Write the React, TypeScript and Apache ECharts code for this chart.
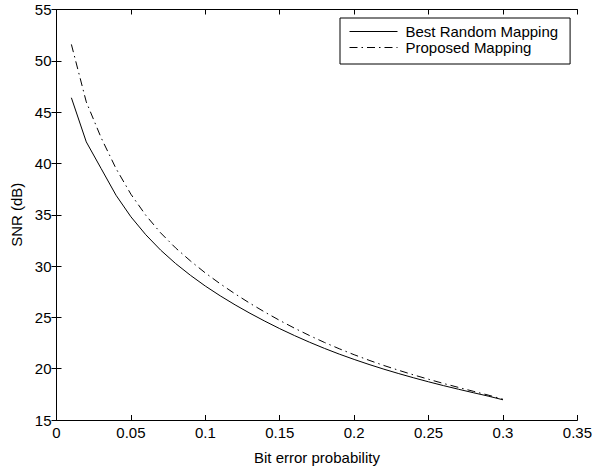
import React, { useEffect, useRef } from "react";
import * as echarts from "echarts";

const berValues = [
  0.01, 0.02, 0.03, 0.04, 0.05, 0.06, 0.07, 0.08, 0.09, 0.1,
  0.11, 0.12, 0.13, 0.14, 0.15, 0.16, 0.17, 0.18, 0.19, 0.2,
  0.21, 0.22, 0.23, 0.24, 0.25, 0.26, 0.27, 0.28, 0.29, 0.3,
];
const bestRandom = [
  46.4, 42.1, 39.5, 36.9, 34.8, 33.05, 31.55, 30.25, 29.1, 28.05,
  27.1, 26.22, 25.4, 24.63, 23.9, 23.22, 22.58, 21.98, 21.42, 20.9,
  20.41, 19.95, 19.52, 19.11, 18.72, 18.35, 18.0, 17.66, 17.33, 16.97,
];
const proposed = [
  51.6, 46.0, 42.5, 39.5, 37.0, 34.95, 33.23, 31.77, 30.5, 29.33,
  28.27, 27.29, 26.37, 25.51, 24.7, 23.94, 23.23, 22.56, 21.94, 21.36,
  20.82, 20.31, 19.84, 19.39, 18.97, 18.56, 18.18, 17.8, 17.43, 17.02,
];
const seriesNames = ["Best Random Mapping", "Proposed Mapping"];
const xAxisName = "Bit error probability";
const yAxisName = "SNR (dB)";

const FONT = "'Liberation Sans', Arial, Helvetica, sans-serif";

export default function App() {
  const ref = useRef<HTMLDivElement>(null);
  useEffect(() => {
    if (!ref.current) return;
    const chart = echarts.init(ref.current, undefined, { renderer: "svg" });
    const axisCommon = {
      axisLine: { show: true, lineStyle: { color: "#000", width: 1 } },
      axisTick: { show: true, inside: true, length: 5, lineStyle: { color: "#000" } },
      splitLine: { show: false },
    };
    const textStyle = { color: "#000", fontSize: 15, fontFamily: FONT };
    chart.setOption({
      animation: false,
      backgroundColor: "#fff",
      grid: { left: 56.5, right: 17, top: 9.5, bottom: 48.5, containLabel: false },
      legend: {
        data: seriesNames,
        orient: "vertical",
        left: 340,
        top: 18,
        itemWidth: 48,
        itemHeight: 14,
        itemGap: 1,
        itemStyle: { opacity: 0 },
        lineStyle: { width: 1 },
        borderColor: "#000",
        borderWidth: 1,
        padding: [6, 12, 9, 9],
        backgroundColor: "#fff",
        textStyle: { ...textStyle, padding: [0, 0, 0, 3] },
      },
      xAxis: [
        {
          type: "value",
          min: 0,
          max: 0.35,
          interval: 0.05,
          position: "bottom",
          name: xAxisName,
          nameLocation: "middle",
          nameGap: 30,
          nameTextStyle: textStyle,
          axisLabel: { ...textStyle, margin: 5, formatter: (v: number) => String(+v.toFixed(2)) },
          ...axisCommon,
        },
        {
          type: "value",
          min: 0,
          max: 0.35,
          interval: 0.05,
          position: "top",
          axisLabel: { show: false },
          ...axisCommon,
        },
      ],
      yAxis: [
        {
          type: "value",
          min: 15,
          max: 55,
          interval: 5,
          position: "left",
          name: yAxisName,
          nameLocation: "middle",
          nameGap: 31,
          nameTextStyle: textStyle,
          axisLabel: { ...textStyle, margin: 5 },
          ...axisCommon,
        },
        {
          type: "value",
          min: 15,
          max: 55,
          interval: 5,
          position: "right",
          axisLabel: { show: false },
          ...axisCommon,
        },
      ],
      series: [
        {
          name: seriesNames[0],
          type: "line",
          data: berValues.map((x, i) => [x, bestRandom[i]]),
          showSymbol: false,
          symbol: "none",
          lineStyle: { color: "#000", width: 1, type: "solid" },
          itemStyle: { color: "#000" },
        },
        {
          name: seriesNames[1],
          type: "line",
          data: berValues.map((x, i) => [x, proposed[i]]),
          showSymbol: false,
          symbol: "none",
          lineStyle: { color: "#000", width: 1, type: [8, 4, 1.5, 4] },
          itemStyle: { color: "#000" },
        },
      ],
    });
    return () => chart.dispose();
  }, []);
  return (
    <div
      ref={ref}
      style={{ position: "fixed", left: 0, top: 0, width: 595, height: 470, background: "#fff" }}
    />
  );
}
